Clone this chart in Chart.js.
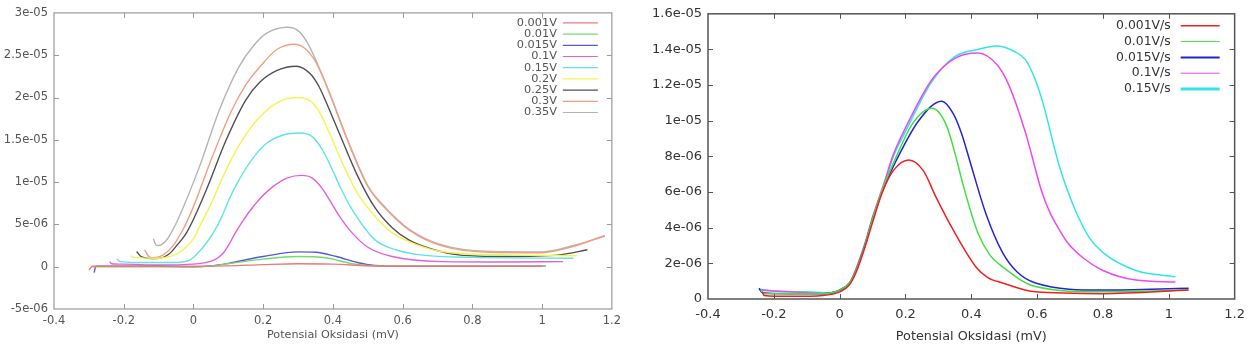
<!DOCTYPE html>
<html>
<head>
<meta charset="utf-8">
<script src="https://cdn.jsdelivr.net/npm/chart.js@4.4.1/dist/chart.umd.min.js"></script>
<style>
  html, body { margin: 0; padding: 0; background: #fff; overflow: hidden; }
  #left { position: absolute; left: 0; top: 0; }
  #right { position: absolute; left: 626px; top: 0; }
</style>
</head>
<body>
<canvas id="left" width="626" height="344"></canvas>
<canvas id="right" width="627" height="344"></canvas>
<script>
// current values are read in units of 1e-6 (A), x is potential
const UNIT = 1e-6;

// ---- left panel: scan at different voltages ----
const leftNames = ["0.001V", "0.01V", "0.015V", "0.1V", "0.15V", "0.2V", "0.25V", "0.3V", "0.35V"];
const leftColors = ["#f07878", "#70dc70", "#5858d0", "#e060e0", "#60e4e4", "#f4f450", "#505050", "#f0a080", "#b4b4b4"];

const l001 = [[-0.30,-0.4],[-0.29,0.05],[-0.2,0.05],[0,0.05],[0.1,0.1],[0.2,0.25],[0.3,0.35],[0.4,0.3],[0.5,0.12],[0.6,0.05],[0.8,0.05],[1.0,0.05]];
const l01 = [[-0.29,0],[-0.1,0],[0,0],[0.05,0.1],[0.1,0.35],[0.2,0.9],[0.3,1.2],[0.38,1.05],[0.45,0.4],[0.5,0.15],[0.6,0.05],[0.8,0.05],[1.01,0.05]];
const l015 = [[-0.285,-0.7],[-0.28,0.05],[-0.1,0.05],[0,0],[0.05,0.1],[0.1,0.4],[0.2,1.2],[0.3,1.75],[0.35,1.7],[0.41,1.2],[0.47,0.5],[0.52,0.15],[0.6,0.05],[0.8,0.05],[1.01,0.05]];
const l1 = [[-0.24,0.6],[-0.235,0.35],[-0.2,0.3],[-0.1,0.2],[0,0.3],[0.03,0.45],[0.06,0.8],[0.083,1.5],[0.1,2.5],[0.12,4.0],[0.14,5.3],[0.16,6.5],[0.19,8.0],[0.226,9.4],[0.27,10.5],[0.31,10.8],[0.34,10.5],[0.37,9.2],[0.39,7.9],[0.42,5.9],[0.455,4],[0.5,2.3],[0.57,1.2],[0.71,0.6],[0.9,0.55],[1.06,0.6]];
const l15 = [[-0.22,0.9],[-0.21,0.6],[-0.15,0.5],[-0.05,0.5],[-0.01,0.8],[0.01,1.5],[0.037,2.8],[0.06,4.2],[0.08,5.8],[0.105,8.2],[0.13,10.2],[0.17,12.8],[0.21,14.6],[0.26,15.6],[0.305,15.8],[0.34,15.4],[0.37,13.8],[0.39,12.2],[0.42,9.5],[0.45,7.1],[0.52,3.2],[0.58,2],[0.65,1.4],[0.8,1.1],[1.09,1.0]];
const l2 = [[-0.18,1.3],[-0.17,1.1],[-0.1,1.0],[-0.06,1.3],[-0.03,2.0],[0,3.3],[0.017,4.7],[0.05,7.4],[0.08,10.2],[0.11,12.8],[0.15,15.6],[0.19,17.7],[0.25,19.6],[0.3,20],[0.335,19.6],[0.36,18.4],[0.39,15.8],[0.43,12.0],[0.47,8.7],[0.52,6.0],[0.57,4],[0.64,2.6],[0.71,1.8],[0.9,1.4],[1.1,1.3]];
const l25 = [[-0.163,1.8],[-0.15,1.2],[-0.106,0.95],[-0.07,1.5],[-0.05,2.4],[-0.02,4.0],[0,5.6],[0.037,9.1],[0.094,15],[0.15,19.7],[0.19,21.8],[0.24,23.2],[0.295,23.7],[0.335,22.8],[0.36,21.3],[0.38,19.5],[0.426,15],[0.47,10.8],[0.52,7.0],[0.57,4.6],[0.62,3.1],[0.69,2.0],[0.76,1.4],[0.9,1.2],[1.05,1.4],[1.13,2.0]];
const l3 = [[-0.14,2.0],[-0.13,1.3],[-0.117,1.05],[-0.09,1.3],[-0.06,2.4],[-0.03,4.4],[0,7.1],[0.054,13],[0.11,18.5],[0.15,21.5],[0.19,23.6],[0.24,25.7],[0.29,26.3],[0.32,25.8],[0.345,24.6],[0.365,23],[0.39,20.5],[0.446,14.5],[0.5,9.5],[0.555,6.7],[0.62,4.3],[0.71,2.5],[0.85,1.7],[1.0,1.65],[1.09,2.4],[1.18,3.7]];
const l35 = [[-0.115,3.3],[-0.108,2.6],[-0.1,2.5],[-0.08,3.0],[-0.06,4.3],[-0.04,6.0],[0.017,11.8],[0.074,18.5],[0.13,23.6],[0.17,26.0],[0.21,27.6],[0.27,28.3],[0.3,27.9],[0.325,26.6],[0.35,24.5],[0.39,20.6],[0.446,14.6],[0.5,9.6],[0.555,6.8],[0.62,4.4],[0.71,2.6],[0.85,1.8],[1.0,1.75],[1.09,2.5],[1.18,3.6]];
const leftSeries = [l001, l01, l015, l1, l15, l2, l25, l3, l35];

const leftXTicks = [-0.4, -0.2, 0, 0.2, 0.4, 0.6, 0.8, 1, 1.2];
const leftXLabels = ["-0.4", "-0.2", "0", "0.2", "0.4", "0.6", "0.8", "1", "1.2"];
const leftYTicks = [-5e-6, 0, 5e-6, 1e-5, 1.5e-5, 2e-5, 2.5e-5, 3e-5];
const leftYLabels = ["-5e-06", "0", "5e-06", "1e-05", "1.5e-05", "2e-05", "2.5e-05", "3e-05"];

// ---- right panel: scan rates ----
const rightNames = ["0.001V/s", "0.01V/s", "0.015V/s", "0.1V/s", "0.15V/s"];
const rightColors = ["#f02020", "#40e040", "#2424d4", "#f048f0", "#30e6e6"];
const rightLegendWidths = [1.5, 1, 2, 1, 3];

const r001 = [[-0.235,0.4],[-0.23,0.2],[-0.15,0.15],[-0.05,0.2],[0,0.4],[0.03,0.8],[0.05,1.5],[0.075,2.8],[0.1,4.3],[0.13,6.0],[0.163,7.2],[0.21,7.8],[0.254,7.2],[0.293,5.7],[0.344,3.9],[0.414,1.8],[0.45,1.2],[0.495,0.9],[0.595,0.4],[0.8,0.3],[1.06,0.5]];
const r01 = [[-0.24,0.5],[-0.23,0.3],[-0.15,0.3],[-0.05,0.3],[0,0.5],[0.03,0.9],[0.05,1.6],[0.075,2.9],[0.1,4.5],[0.133,6.3],[0.17,7.9],[0.22,9.8],[0.28,10.7],[0.323,9.8],[0.35,8.2],[0.375,6.4],[0.42,3.7],[0.455,2.5],[0.495,1.8],[0.595,0.7],[0.8,0.4],[1.06,0.5]];
const r015 = [[-0.245,0.6],[-0.235,0.35],[-0.15,0.3],[-0.05,0.3],[0,0.5],[0.03,0.9],[0.05,1.6],[0.075,2.9],[0.1,4.5],[0.133,6.2],[0.17,7.7],[0.24,10],[0.31,11.1],[0.345,10.4],[0.37,9.3],[0.393,7.9],[0.444,4.8],[0.495,2.6],[0.54,1.5],[0.595,0.9],[0.8,0.5],[1.06,0.6]];
const r1 = [[-0.24,0.5],[-0.2,0.45],[-0.1,0.35],[-0.03,0.3],[0,0.5],[0.03,0.9],[0.05,1.7],[0.075,3.0],[0.1,4.6],[0.133,6.4],[0.163,8.1],[0.2,9.6],[0.28,12.3],[0.35,13.5],[0.42,13.8],[0.48,13.1],[0.514,12],[0.565,9.3],[0.616,5.9],[0.64,4.8],[0.67,3.8],[0.695,3.1],[0.74,2.3],[0.8,1.6],[0.9,1.06],[1.02,0.95]];
const r15 = [[-0.245,0.55],[-0.2,0.45],[-0.1,0.4],[-0.03,0.35],[0,0.5],[0.03,0.9],[0.05,1.7],[0.075,3.0],[0.1,4.5],[0.133,6.3],[0.163,8.0],[0.2,9.4],[0.28,12.2],[0.35,13.6],[0.42,14],[0.474,14.2],[0.53,13.9],[0.565,13.4],[0.59,12.5],[0.616,11.1],[0.665,7.6],[0.69,6.2],[0.725,4.6],[0.76,3.4],[0.8,2.6],[0.9,1.6],[1.02,1.25]];
const rightSeries = [r001, r01, r015, r1, r15];

const rightXTicks = [-0.4, -0.2, 0, 0.2, 0.4, 0.6, 0.8, 1, 1.2];
const rightXLabels = ["-0.4", "-0.2", "0", "0.2", "0.4", "0.6", "0.8", "1", "1.2"];
const rightYTicks = [0, 2e-6, 4e-6, 6e-6, 8e-6, 1e-5, 1.2e-5, 1.4e-5, 1.6e-5];
const rightYLabels = ["0", "2e-06", "4e-06", "6e-06", "8e-06", "1e-05", "1.2e-05", "1.4e-05", "1.6e-05"];

const FONT = "'DejaVu Sans', sans-serif";

// gnuplot-like frame: box plus inward ticks on all four sides
const framePlugin = {
  id: "frame",
  afterDatasetsDraw(chart, args, opts) {
    const { ctx, chartArea: a, scales: { x, y } } = chart;
    ctx.save();
    ctx.strokeStyle = opts.color;
    ctx.lineWidth = opts.width;
    ctx.strokeRect(a.left, a.top, a.right - a.left, a.bottom - a.top);
    ctx.lineWidth = 1;
    ctx.beginPath();
    x.ticks.forEach((t, i) => {
      if (i === 0 || i === x.ticks.length - 1) return;
      const px = Math.round(x.getPixelForValue(t.value)) + 0.5;
      ctx.moveTo(px, a.bottom); ctx.lineTo(px, a.bottom - opts.len);
      ctx.moveTo(px, a.top); ctx.lineTo(px, a.top + opts.len);
    });
    y.ticks.forEach((t, i) => {
      if (i === 0 || i === y.ticks.length - 1) return;
      const py = Math.round(y.getPixelForValue(t.value)) + 0.5;
      ctx.moveTo(a.left, py); ctx.lineTo(a.left + opts.len, py);
      ctx.moveTo(a.right, py); ctx.lineTo(a.right - opts.len, py);
    });
    ctx.stroke();
    ctx.restore();
  }
};

// legend inside the plot, top right: text right aligned, then a line sample
const keyPlugin = {
  id: "key",
  afterDraw(chart, args, opts) {
    const { ctx, chartArea: a } = chart;
    ctx.save();
    ctx.font = opts.font;
    ctx.textAlign = "right";
    ctx.textBaseline = "middle";
    chart.data.datasets.forEach((ds, i) => {
      const yy = a.top + opts.top + i * opts.rowH;
      ctx.fillStyle = opts.color;
      ctx.fillText(ds.label, a.right - opts.textRight, yy);
      ctx.strokeStyle = ds.borderColor;
      ctx.lineWidth = opts.widths ? opts.widths[i] : 1.2;
      ctx.beginPath();
      ctx.moveTo(a.right - opts.lineFrom, yy);
      ctx.lineTo(a.right - opts.lineTo, yy);
      ctx.stroke();
    });
    ctx.restore();
  }
};

function buildDatasets(names, colors, series, width) {
  return names.map((name, i) => ({
    label: name,
    data: series[i].map(p => ({ x: p[0], y: p[1] * UNIT })),
    borderColor: colors[i],
    borderWidth: width,
    showLine: true,
    pointRadius: 0,
    fill: false,
    cubicInterpolationMode: "monotone"
  }));
}

function buildOptions(c) {
  return {
    responsive: false,
    animation: false,
    layout: { padding: { top: c.top, right: c.right, left: 0, bottom: 0 } },
    plugins: {
      legend: { display: false },
      tooltip: { enabled: false },
      frame: { color: c.frameColor, width: c.frameWidth, len: 5 },
      key: c.key
    },
    scales: {
      x: {
        type: "linear",
        min: c.xTicks[0], max: c.xTicks[c.xTicks.length - 1],
        afterBuildTicks: s => { s.ticks = c.xTicks.map(v => ({ value: v })); },
        afterFit: s => { s.height = c.xHeight; },
        grid: { display: false, drawTicks: false },
        border: { display: false },
        ticks: {
          autoSkip: false, maxRotation: 0, padding: c.xPad,
          color: c.textColor, font: { family: FONT, size: c.tickSize },
          callback: (v, i) => c.xLabels[i]
        },
        title: {
          display: true, text: "Potensial Oksidasi (mV)",
          color: c.textColor, font: { family: FONT, size: c.titleSize },
          padding: { top: 0, bottom: c.titlePad }
        }
      },
      y: {
        type: "linear",
        min: c.yTicks[0], max: c.yTicks[c.yTicks.length - 1],
        afterBuildTicks: s => { s.ticks = c.yTicks.map(v => ({ value: v })); },
        afterFit: s => { s.width = c.yWidth; },
        grid: { display: false, drawTicks: false },
        border: { display: false },
        ticks: {
          autoSkip: false, padding: 6,
          color: c.textColor, font: { family: FONT, size: c.tickSize },
          callback: (v, i) => c.yLabels[i]
        }
      }
    }
  };
}

new Chart(document.getElementById("left"), {
  type: "scatter",
  data: { datasets: buildDatasets(leftNames, leftColors, leftSeries, 1.4) },
  options: buildOptions({
    top: 12, right: 13, xHeight: 35, yWidth: 54, xPad: 5, titlePad: 2,
    tickSize: 11.5, titleSize: 11.2, textColor: "#555",
    frameColor: "#9a9a9a", frameWidth: 1.2,
    xTicks: leftXTicks, xLabels: leftXLabels, yTicks: leftYTicks, yLabels: leftYLabels,
    key: { font: "11.3px " + FONT, color: "#555", top: 10, rowH: 11.2, textRight: 55, lineFrom: 49, lineTo: 14 }
  }),
  plugins: [framePlugin, keyPlugin]
});

new Chart(document.getElementById("right"), {
  type: "scatter",
  data: { datasets: buildDatasets(rightNames, rightColors, rightSeries, 1.5) },
  options: buildOptions({
    top: 13, right: 16, xHeight: 45, yWidth: 82, xPad: 8, titlePad: 0,
    tickSize: 13, titleSize: 12.8, textColor: "#333",
    frameColor: "#555", frameWidth: 1.5,
    xTicks: rightXTicks, xLabels: rightXLabels, yTicks: rightYTicks, yLabels: rightYLabels,
    key: { font: "12.4px " + FONT, color: "#333", top: 12, rowH: 15.8, textRight: 64, lineFrom: 54, lineTo: 15, widths: rightLegendWidths }
  }),
  plugins: [framePlugin, keyPlugin]
});
</script>
</body>
</html>
